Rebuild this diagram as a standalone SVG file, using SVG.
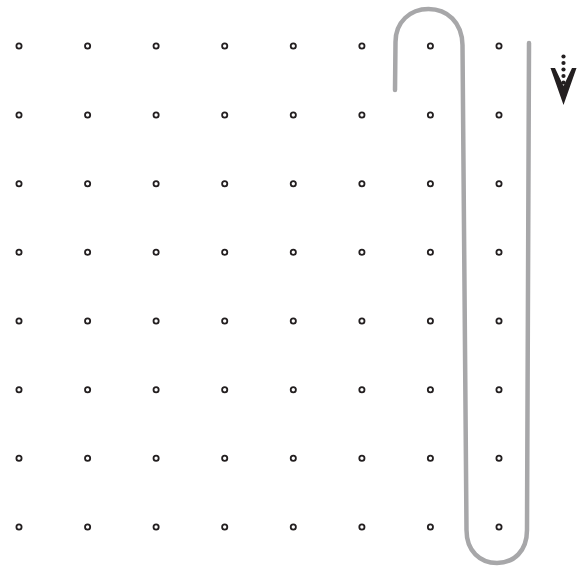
<svg xmlns="http://www.w3.org/2000/svg" width="587" height="568" viewBox="0 0 587 568">
<style>
.dot{fill:#fff;stroke:#231f20;stroke-width:1.8}
.route{fill:none;stroke:#a7a7a9;stroke-width:4.5;stroke-linecap:round;stroke-linejoin:round}
.arr{fill:#231f20}
</style>
<rect width="587" height="568" fill="#fff"/>
<g id="grid">
<g id="row1"><circle class="dot" cx="19" cy="46" r="2.6"/><circle class="dot" cx="87.6" cy="46" r="2.6"/><circle class="dot" cx="156.1" cy="46" r="2.6"/><circle class="dot" cx="224.7" cy="46" r="2.6"/><circle class="dot" cx="293.3" cy="46" r="2.6"/><circle class="dot" cx="361.9" cy="46" r="2.6"/><circle class="dot" cx="430.4" cy="46" r="2.6"/><circle class="dot" cx="499" cy="46" r="2.6"/></g>
<g id="row2"><circle class="dot" cx="19" cy="115" r="2.6"/><circle class="dot" cx="87.6" cy="115" r="2.6"/><circle class="dot" cx="156.1" cy="115" r="2.6"/><circle class="dot" cx="224.7" cy="115" r="2.6"/><circle class="dot" cx="293.3" cy="115" r="2.6"/><circle class="dot" cx="361.9" cy="115" r="2.6"/><circle class="dot" cx="430.4" cy="115" r="2.6"/><circle class="dot" cx="499" cy="115" r="2.6"/></g>
<g id="row3"><circle class="dot" cx="19" cy="183.7" r="2.6"/><circle class="dot" cx="87.6" cy="183.7" r="2.6"/><circle class="dot" cx="156.1" cy="183.7" r="2.6"/><circle class="dot" cx="224.7" cy="183.7" r="2.6"/><circle class="dot" cx="293.3" cy="183.7" r="2.6"/><circle class="dot" cx="361.9" cy="183.7" r="2.6"/><circle class="dot" cx="430.4" cy="183.7" r="2.6"/><circle class="dot" cx="499" cy="183.7" r="2.6"/></g>
<g id="row4"><circle class="dot" cx="19" cy="252.3" r="2.6"/><circle class="dot" cx="87.6" cy="252.3" r="2.6"/><circle class="dot" cx="156.1" cy="252.3" r="2.6"/><circle class="dot" cx="224.7" cy="252.3" r="2.6"/><circle class="dot" cx="293.3" cy="252.3" r="2.6"/><circle class="dot" cx="361.9" cy="252.3" r="2.6"/><circle class="dot" cx="430.4" cy="252.3" r="2.6"/><circle class="dot" cx="499" cy="252.3" r="2.6"/></g>
<g id="row5"><circle class="dot" cx="19" cy="321" r="2.6"/><circle class="dot" cx="87.6" cy="321" r="2.6"/><circle class="dot" cx="156.1" cy="321" r="2.6"/><circle class="dot" cx="224.7" cy="321" r="2.6"/><circle class="dot" cx="293.3" cy="321" r="2.6"/><circle class="dot" cx="361.9" cy="321" r="2.6"/><circle class="dot" cx="430.4" cy="321" r="2.6"/><circle class="dot" cx="499" cy="321" r="2.6"/></g>
<g id="row6"><circle class="dot" cx="19" cy="389.7" r="2.6"/><circle class="dot" cx="87.6" cy="389.7" r="2.6"/><circle class="dot" cx="156.1" cy="389.7" r="2.6"/><circle class="dot" cx="224.7" cy="389.7" r="2.6"/><circle class="dot" cx="293.3" cy="389.7" r="2.6"/><circle class="dot" cx="361.9" cy="389.7" r="2.6"/><circle class="dot" cx="430.4" cy="389.7" r="2.6"/><circle class="dot" cx="499" cy="389.7" r="2.6"/></g>
<g id="row7"><circle class="dot" cx="19" cy="458.3" r="2.6"/><circle class="dot" cx="87.6" cy="458.3" r="2.6"/><circle class="dot" cx="156.1" cy="458.3" r="2.6"/><circle class="dot" cx="224.7" cy="458.3" r="2.6"/><circle class="dot" cx="293.3" cy="458.3" r="2.6"/><circle class="dot" cx="361.9" cy="458.3" r="2.6"/><circle class="dot" cx="430.4" cy="458.3" r="2.6"/><circle class="dot" cx="499" cy="458.3" r="2.6"/></g>
<g id="row8"><circle class="dot" cx="19" cy="527" r="2.6"/><circle class="dot" cx="87.6" cy="527" r="2.6"/><circle class="dot" cx="156.1" cy="527" r="2.6"/><circle class="dot" cx="224.7" cy="527" r="2.6"/><circle class="dot" cx="293.3" cy="527" r="2.6"/><circle class="dot" cx="361.9" cy="527" r="2.6"/><circle class="dot" cx="430.4" cy="527" r="2.6"/><circle class="dot" cx="499" cy="527" r="2.6"/></g>
</g>
<g id="connectors">
<path class="route" d="M395,90 L395.5,42 C395.5,22 410,9 428.5,9 C447,9 462,22 462.5,45 L466.5,530 C466.5,551 480,563 497,563 C514,563 527,551 527,530 L529,43"/>
</g>
<g id="direction-arrow">
<circle class="arr" cx="563.5" cy="56.5" r="2.1"/>
<circle class="arr" cx="563.5" cy="63" r="2.1"/>
<circle class="arr" cx="563.5" cy="69.5" r="2.1"/>
<circle class="arr" cx="563.5" cy="76" r="2.1"/>
<circle class="arr" cx="563.5" cy="82.5" r="2.1"/>
<polygon class="arr" points="550.5,68 555,68 563.5,86 572,68 576.5,68 563.5,105"/>
</g>
</svg>
